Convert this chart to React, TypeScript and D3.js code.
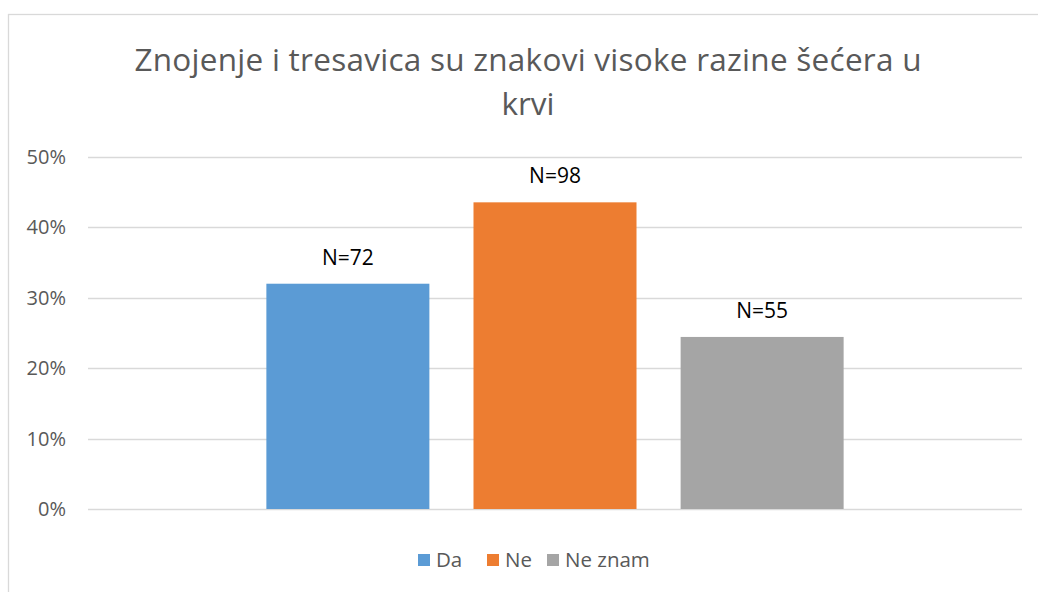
import React from 'react';
import * as d3 from 'd3';

// chart data
const categories = ['Da', 'Ne', 'Ne znam'];
const counts = [72, 98, 55];
const shares = [0.32, 0.4356, 0.2444];
const colors = ['#5B9BD5', '#ED7D31', '#A5A5A5'];
const yTicks = [0, 0.1, 0.2, 0.3, 0.4, 0.5];
const titleLines = ['Znojenje i tresavica su znakovi visoke razine šećera u', 'krvi'];

const W = 1038;
const H = 592;
const font = '"Open Sans", "Liberation Sans", sans-serif';

const App = () => {
  const plot = { left: 88, right: 1022, top: 157, bottom: 509 };

  const y = d3.scaleLinear().domain([0, 0.5]).range([plot.bottom, plot.top]);
  // single category group, three series side by side
  const x0 = d3.scaleBand().domain(['all']).range([plot.left, plot.right]).paddingInner(0).paddingOuter(0.309);
  const x1 = d3.scaleBand().domain(categories).range([x0('all')!, x0('all')! + x0.bandwidth()]).paddingInner(0.213).paddingOuter(0);
  const fmt = d3.format('.0%');

  // legend layout
  const legendX = [418, 487, 547];

  return (
    <div style={{ position: 'absolute', left: 0, top: 0 }}>
      <svg width={W} height={H} style={{ display: 'block', fontFamily: font }}>
        <rect x={0} y={0} width={W} height={H} fill="#fff" />
        <rect x={8.5} y={14.5} width={1060} height={620} fill="#fff" stroke="#d9d9d9" strokeWidth={1.3} />

        {/* title */}
        <text x={528} textAnchor="middle" fill="#595959" fontSize={31.5}>
          {titleLines.map((l, i) => (
            <tspan key={i} x={528} y={71 + i * 44} textLength={i === 0 ? 787 : undefined}>{l}</tspan>
          ))}
        </text>

        {/* gridlines and y axis labels */}
        {yTicks.map(t => (
          <g key={t}>
            <line x1={plot.left} x2={plot.right} y1={Math.round(y(t)) + 0.5} y2={Math.round(y(t)) + 0.5} stroke="#d9d9d9" strokeWidth={1.3} />
            <text x={66} y={y(t) + 7} textAnchor="end" fill="#595959" fontSize={20}>{fmt(t)}</text>
          </g>
        ))}

        {/* bars */}
        {categories.map((c, i) => (
          <g key={c}>
            <rect x={x1(c)} y={y(shares[i])} width={x1.bandwidth()} height={plot.bottom - y(shares[i])} fill={colors[i]} />
            <text x={x1(c)! + x1.bandwidth() / 2} y={y(shares[i]) - 19} textAnchor="middle" fill="#000" fontSize={21}>
              {`N=${counts[i]}`}
            </text>
          </g>
        ))}

        {/* legend */}
        {categories.map((c, i) => (
          <g key={c}>
            <rect x={legendX[i]} y={554} width={12} height={12} fill={colors[i]} />
            <text x={legendX[i] + 18} y={567} fill="#595959" fontSize={20.5}>{c}</text>
          </g>
        ))}
      </svg>
    </div>
  );
};

export default App;
